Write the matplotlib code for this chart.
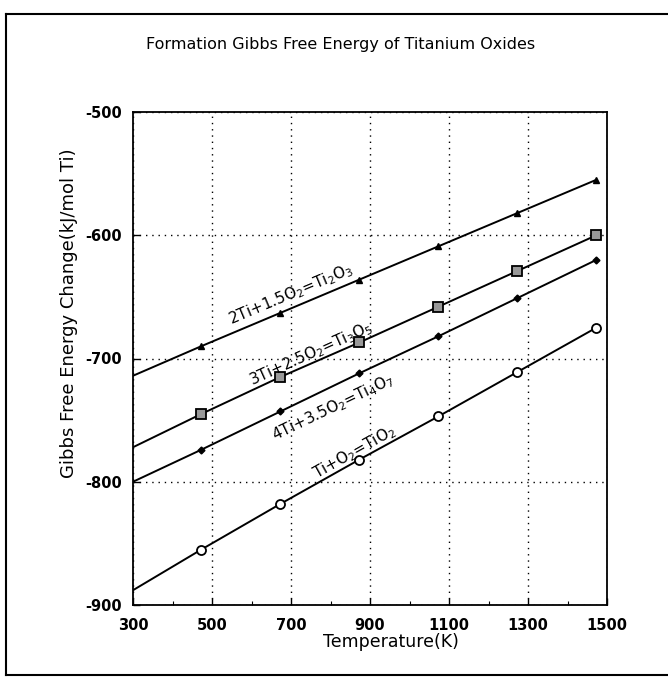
import matplotlib
matplotlib.use("Agg")
import matplotlib.pyplot as plt
import numpy as np
from matplotlib.lines import Line2D

plt.rcParams.update({
    "font.family": "DejaVu Sans",
    "mathtext.default": "regular",
    "axes.unicode_minus": False,
    "font.size": 10.5,
})

# temperatures (K); the first point only anchors the line at the left axis
temps = [300, 473, 673, 873, 1073, 1273, 1473]

ti2o3 = [-714, -690, -663, -636, -609, -582, -555]
ti3o5 = [-772, -745, -715, -687, -658, -629, -600]
ti4o7 = [-800, -774, -743, -712, -682, -651, -620]
tio2 = [-888, -855, -818, -782, -747, -711, -675]

labels = [
    r"2Ti+1.5O$_2$=Ti$_2$O$_3$",
    r"3Ti+2.5O$_2$=Ti$_3$O$_5$",
    r"4Ti+3.5O$_2$=Ti$_4$O$_7$",
    r"Ti+O$_2$=TiO$_2$",
]
label_x = [700, 750, 806, 860]
label_y = [-648, -696, -740, -776]

xticks = [300, 500, 700, 900, 1100, 1300, 1500]
xminor = [400, 600, 800, 1000, 1200, 1400]
yticks = [-900, -800, -700, -600, -500]

series = [ti2o3, ti3o5, ti4o7, tio2]
markers = [
    dict(marker="^", ms=5, mfc="black"),
    dict(marker="s", ms=6.5, mfc="#999999", mew=1.3),
    dict(marker="D", ms=3.5, mfc="black"),
    dict(marker="o", ms=6.5, mfc="white", mew=1.3),
]

fig = plt.figure(figsize=(6.68, 6.78), dpi=100)
ax = fig.add_axes([133 / 668, 1 - 605 / 678, 474 / 668, 493 / 678])

for ys, mk in zip(series, markers):
    ax.plot(temps, ys, color="black", lw=1.4, mec="black",
            markevery=slice(1, None), **mk)

ax.set_xlim(300, 1500)
ax.set_ylim(-900, -500)
ax.set_xticks(xticks)
ax.set_xticks(xminor, minor=True)
ax.set_yticks(yticks)
ax.tick_params(which="both", direction="in", top=False, right=False)
ax.tick_params(which="major", length=5, width=1, labelsize=10.5)
ax.tick_params(which="minor", length=3, width=0.8)
ax.tick_params(axis="x", pad=9)
ax.tick_params(axis="y", pad=8)
for lab in ax.get_xticklabels() + ax.get_yticklabels():
    lab.set_fontweight("bold")
for sp in ax.spines.values():
    sp.set_linewidth(1.3)

ax.grid(True, which="major", color="black", lw=1.0, ls=(0, (1, 3.5)))

ax.set_xlabel("Temperature(K)", fontsize=12.5)
ax.xaxis.set_label_coords(0.545, -0.057)
ax.xaxis.label.set_va("top")
ax.set_ylabel("Gibbs Free Energy Change(kJ/mol Ti)", fontsize=13)
ax.yaxis.set_label_coords(-0.116, 0.592)

fig.canvas.draw()
for ys, text, lx, ly in zip(series, labels, label_x, label_y):
    p0 = ax.transData.transform((temps[1], ys[1]))
    p1 = ax.transData.transform((temps[-1], ys[-1]))
    ang = np.degrees(np.arctan2(p1[1] - p0[1], p1[0] - p0[0]))
    ax.text(lx, ly, text, rotation=ang, rotation_mode="anchor",
            ha="center", va="center", fontsize=11)

fig.text(0.51, 1 - 45 / 678, "Formation Gibbs Free Energy of Titanium Oxides",
         ha="center", va="center", fontsize=11.5)

# page frame
fx0, fy0, fy1 = 6 / 668, 1 - 675 / 678, 1 - 14 / 678
for xs, ys in [([fx0, 1.0], [fy1, fy1]), ([fx0, fx0], [fy0, fy1]),
               ([fx0, 1.0], [fy0, fy0])]:
    fig.add_artist(Line2D(xs, ys, color="black", lw=1.5, transform=fig.transFigure))

fig.savefig("out.png", dpi=100)
